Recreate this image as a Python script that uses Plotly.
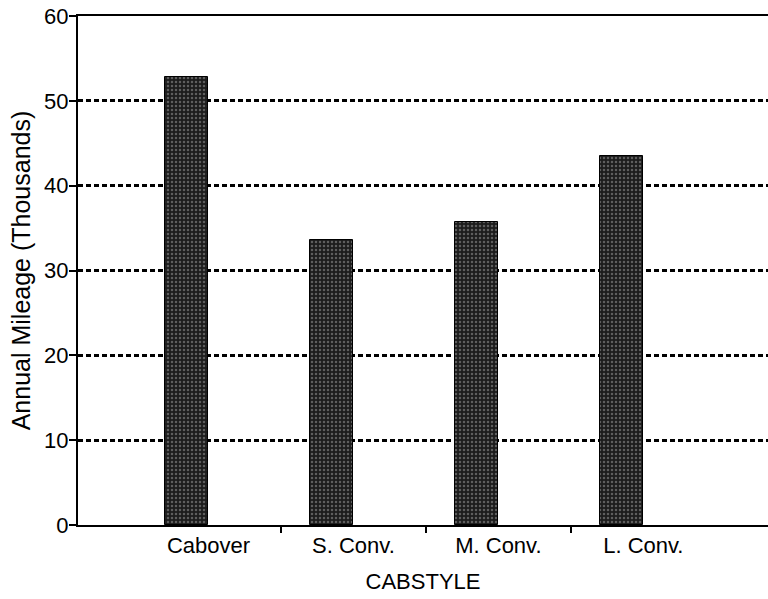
import plotly.graph_objects as go

categories = ["Cabover", "S. Conv.", "M. Conv.", "L. Conv."]
mileage = [52.8, 33.6, 35.7, 43.5]
y_ticks = [0, 10, 20, 30, 40, 50, 60]

positions = list(range(len(categories)))
boundaries = [p + 0.5 for p in positions[:-1]]

FONT = "Liberation Sans, Arial, Helvetica, sans-serif"

fig = go.Figure()
fig.add_trace(go.Bar(
    x=positions,
    y=mileage,
    offset=-0.30,
    width=0.30,
    marker=dict(
        color="#1c1c1c",
        line=dict(color="black", width=1),
        pattern=dict(shape=".", fgcolor="#a0a0a0", bgcolor="#1c1c1c", size=4, solidity=0.3),
    ),
    showlegend=False,
))

fig.update_layout(
    width=768, height=599,
    margin=dict(l=78, r=0, t=16, b=74),
    paper_bgcolor="white", plot_bgcolor="white",
    font=dict(family=FONT, size=22, color="black"),
    bargap=0,
)

fig.update_xaxes(
    range=[-0.9, 3.86],
    tickvals=positions, ticktext=categories,
    ticks="", showgrid=False, zeroline=False, automargin=False,
    showline=True, linecolor="black", linewidth=2, mirror=True,
    tickfont=dict(size=22),
    minor=dict(tickvals=boundaries, ticks="outside", ticklen=6, tickwidth=2,
               tickcolor="black", showgrid=False),
    title=dict(text="CABSTYLE", font=dict(size=22), standoff=16),
)

fig.update_yaxes(
    range=[0, 60],
    tickvals=y_ticks, automargin=False,
    ticks="outside", ticklen=7, tickwidth=2, tickcolor="black",
    ticklabelstandoff=-4,
    showline=True, linecolor="black", linewidth=2, mirror=False,
    showgrid=True, gridcolor="black", gridwidth=2.5, griddash="5px,3px",
    zeroline=False,
    tickfont=dict(size=22),
    title=dict(text="Annual Mileage (Thousands)", font=dict(size=25), standoff=6),
)

fig.write_html(
    "out.html",
    config={"displayModeBar": False},
    post_script="document.body.style.margin='0';document.body.style.padding='0';",
)
